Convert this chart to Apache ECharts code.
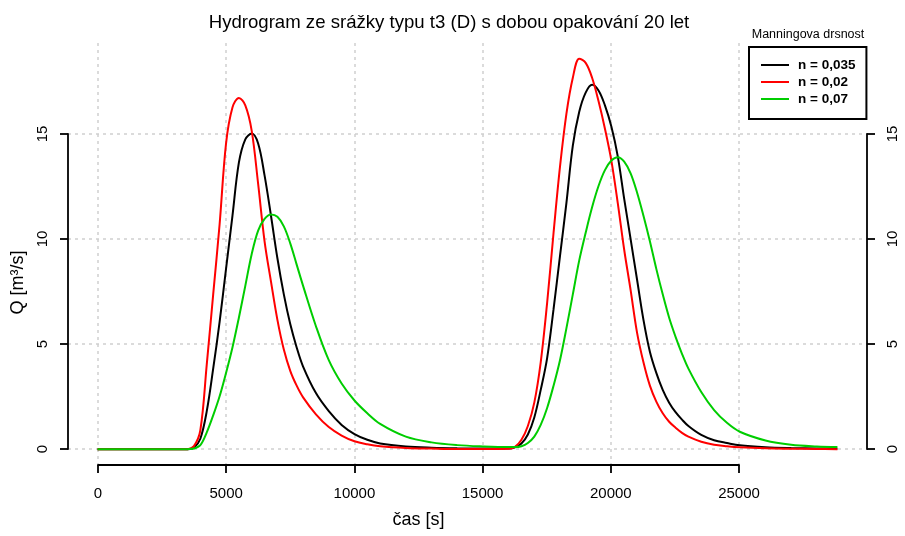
<!DOCTYPE html>
<html>
<head>
<meta charset="utf-8">
<title>Hydrogram</title>
<script src="https://cdn.jsdelivr.net/npm/echarts@6/dist/echarts.min.js"></script>
<style>
html, body { margin: 0; padding: 0; background: #fff; }
#hydrogram { width: 905px; height: 536px; }
</style>
</head>
<body>
<div id="hydrogram"></div>
<script>
// cas [s]
var cas = [0, 3000, 3500, 3750, 4000, 4250, 4500, 4750, 5000, 5250, 5500, 5750, 6000, 6250, 6500, 6750,
	7000, 7250, 7500, 7750, 8000, 8500, 9000, 9500, 10000, 10500, 11000, 12000, 13000, 14000, 15000, 16000,
	16250, 16500, 16750, 17000, 17250, 17500, 17750, 18000, 18250, 18500, 18750, 19000, 19250, 19500, 19750,
	20000, 20250, 20500, 20750, 21000, 21250, 21500, 21750, 22000, 22250, 22500, 22750, 23000, 23500, 24000,
	24500, 25000, 26000, 27000, 28000, 28800];

// Q [m3/s] pro n = 0,035
var q035 = [0, 0, 0.01, 0.08, 0.5, 1.8, 3.8, 6.0, 8.5, 11.0, 13.5, 14.6, 14.87, 14.4, 12.9, 11.0,
	9.0, 7.3, 5.9, 4.8, 3.9, 2.65, 1.8, 1.15, 0.72, 0.45, 0.28, 0.14, 0.08, 0.05, 0.04, 0.04,
	0.1, 0.28, 0.7, 1.5, 2.8, 4.3, 6.6, 9.1, 11.6, 14.3, 15.9, 16.8, 17.17, 16.9, 16.2,
	15.2, 13.8, 11.8, 9.9, 8.0, 6.1, 4.6, 3.6, 2.8, 2.2, 1.75, 1.4, 1.1, 0.68, 0.43,
	0.3, 0.19, 0.1, 0.06, 0.04, 0.03];

// Q [m3/s] pro n = 0,02
var q002 = [0, 0, 0.01, 0.15, 0.9, 4.0, 7.3, 10.6, 14.4, 16.1, 16.55, 16.2, 15.0, 12.5, 9.8, 7.9,
	6.1, 4.7, 3.7, 3.0, 2.45, 1.65, 1.05, 0.65, 0.38, 0.24, 0.15, 0.07, 0.04, 0.02, 0.02, 0.03,
	0.12, 0.45, 1.1, 2.2, 4.1, 6.9, 10.2, 13.3, 15.8, 17.5, 18.4, 18.2, 17.5, 16.4, 15.1,
	13.6, 11.6, 9.4, 7.5, 5.5, 4.1, 3.0, 2.25, 1.7, 1.3, 1.02, 0.78, 0.6, 0.36, 0.22,
	0.15, 0.1, 0.05, 0.03, 0.02, 0.01];

// Q [m3/s] pro n = 0,07
var q007 = [0, 0, 0.01, 0.04, 0.2, 0.8, 1.6, 2.5, 3.6, 4.8, 6.2, 7.7, 9.2, 10.3, 10.85, 11.06,
	10.95, 10.5, 9.7, 8.7, 7.7, 5.8, 4.2, 3.1, 2.3, 1.7, 1.2, 0.6, 0.33, 0.2, 0.14, 0.11,
	0.11, 0.15, 0.3, 0.6, 1.15, 1.95, 3.0, 4.2, 5.7, 7.3, 8.9, 10.2, 11.4, 12.4, 13.15,
	13.6, 13.76, 13.55, 13.0, 12.1, 11.0, 9.8, 8.5, 7.3, 6.2, 5.3, 4.5, 3.8, 2.7, 1.85,
	1.25, 0.83, 0.42, 0.22, 0.14, 0.11];

var nazvy = ['n = 0,035', 'n = 0,02', 'n = 0,07'];
var barvy = ['#000000', '#ff0000', '#00cd00'];
var xTicks = [0, 5000, 10000, 15000, 20000, 25000];
var yTicks = [0, 5, 10, 15];

var font = '"Liberation Sans", Arial, sans-serif';
var dom = document.getElementById('hydrogram');
var myChart = echarts.init(dom, null, { renderer: 'canvas' });

// rozsah dat + 4 % jako v R
var tMax = cas[cas.length - 1];
var qMax = Math.max.apply(null, q002.concat(q035, q007));
var gridLine = { show: true, lineStyle: { color: '#cfcfcf', width: 1.5, type: [3, 4] } };
var axisBlack = { show: true, lineStyle: { color: '#000', width: 1.8 } };
var tickBlack = { show: true, inside: false, length: 8, lineStyle: { color: '#000', width: 1.8 } };

function zip(vals) {
	return cas.map(function (t, i) { return [t, vals[i]]; });
}

var option = {
	animation: false,
	backgroundColor: '#fff',
	textStyle: { fontFamily: font, color: '#000' },
	title: [{
		text: 'Hydrogram ze srážky typu t3 (D) s dobou opakování 20 let',
		left: 444,
		textAlign: 'center',
		top: 8,
		textStyle: { fontSize: 18.6, fontWeight: 'normal', fontFamily: font, color: '#000' }
	}, {
		text: 'Manningova drsnost',
		left: 803,
		textAlign: 'center',
		top: 23,
		textStyle: { fontSize: 12.5, fontWeight: 'normal', fontFamily: font, color: '#000' }
	}],
	legend: {
		data: nazvy,
		orient: 'vertical',
		left: 749,
		top: 47,
		padding: [11, 11, 13, 12],
		itemGap: 3,
		itemWidth: 28,
		itemHeight: 2,
		icon: 'rect',
		borderColor: '#000',
		borderWidth: 2,
		borderRadius: 0,
		backgroundColor: '#fff',
		textStyle: { fontFamily: font, fontSize: 13.5, lineHeight: 14, fontWeight: 'bold', color: '#000', padding: [0, 0, 0, 4] }
	},
	grid: [
		{ left: 68, right: 38, top: 43, bottom: 71 },
		{ left: 98, right: 166, top: 43, bottom: 71 },
		{ left: 68, right: 38, top: 134, bottom: 87 }
	],
	xAxis: [{
		gridIndex: 0, type: 'value', show: false,
		min: -0.04 * tMax, max: 1.04 * tMax
	}, {
		gridIndex: 1, type: 'value',
		min: xTicks[0], max: xTicks[xTicks.length - 1], interval: xTicks[1] - xTicks[0],
		axisLine: axisBlack,
		axisTick: tickBlack,
		axisLabel: {
			margin: 21, fontSize: 15, color: '#000', fontFamily: font,
			formatter: function (v) { return String(v); }
		},
		splitLine: gridLine,
		name: 'čas [s]', nameLocation: 'middle', nameGap: 46,
		nameTextStyle: { fontSize: 18, color: '#000', fontFamily: font }
	}, {
		gridIndex: 2, type: 'value', show: false, min: 0, max: 1
	}],
	yAxis: [{
		gridIndex: 0, type: 'value', show: false,
		min: -0.04 * qMax, max: 1.04 * qMax
	}, {
		gridIndex: 1, type: 'value', show: false, min: 0, max: 1
	}, {
		gridIndex: 2, type: 'value', position: 'left',
		min: yTicks[0], max: yTicks[yTicks.length - 1], interval: yTicks[1] - yTicks[0],
		axisLine: axisBlack,
		axisTick: tickBlack,
		axisLabel: { rotate: 90, margin: 18, fontSize: 15, color: '#000', fontFamily: font },
		splitLine: gridLine,
		name: 'Q [m³/s]', nameLocation: 'middle', nameGap: 39,
		nameTextStyle: { fontSize: 18, color: '#000', fontFamily: font, padding: [0, 0, 0, 18] }
	}, {
		gridIndex: 2, type: 'value', position: 'right',
		min: yTicks[0], max: yTicks[yTicks.length - 1], interval: yTicks[1] - yTicks[0],
		axisLine: axisBlack,
		axisTick: tickBlack,
		axisLabel: { rotate: 90, margin: 18, fontSize: 15, color: '#000', fontFamily: font },
		splitLine: { show: false }
	}],
	series: [q035, q002, q007].map(function (vals, i) {
		return {
			name: nazvy[i],
			type: 'line',
			xAxisIndex: 0,
			yAxisIndex: 0,
			data: zip(vals),
			smooth: 0.35,
			symbol: 'none',
			color: barvy[i],
			lineStyle: { color: barvy[i], width: 2 },
			z: 3
		};
	})
};

if (option && typeof option === 'object') {
	myChart.setOption(option, true);
}
</script>
</body>
</html>
